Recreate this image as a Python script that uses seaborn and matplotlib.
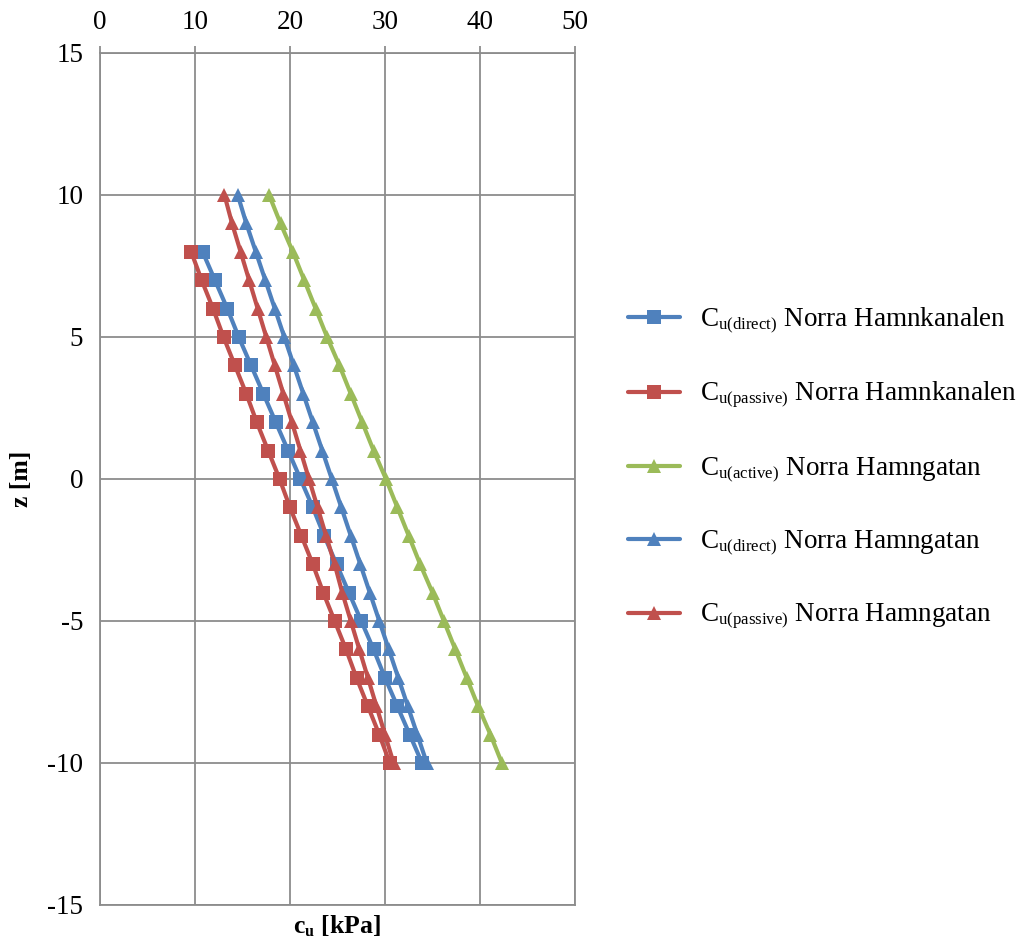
import matplotlib
matplotlib.use("Agg")
import matplotlib.pyplot as plt
import matplotlib._mathtext as _mathtext
import seaborn as sns
import pandas as pd

# Depth levels [m]
z_hamnkanalen = [8, 7, 6, 5, 4, 3, 2, 1, 0, -1, -2, -3, -4, -5, -6, -7, -8, -9, -10]
z_hamngatan = [10, 9, 8, 7, 6, 5, 4, 3, 2, 1, 0, -1, -2, -3, -4, -5, -6, -7, -8, -9, -10]

# Undrained shear strength cu [kPa]
cu_direct_hamnkanalen = [10.8, 12.1, 13.4, 14.6, 15.9, 17.2, 18.5, 19.8, 21.1, 22.4,
                         23.6, 24.9, 26.2, 27.5, 28.8, 30.0, 31.3, 32.6, 33.9]
cu_passive_hamnkanalen = [9.6, 10.7, 11.9, 13.0, 14.2, 15.4, 16.5, 17.7, 18.9, 20.0,
                          21.2, 22.4, 23.5, 24.7, 25.9, 27.0, 28.2, 29.4, 30.5]
cu_active_hamngatan = [17.8, 19.0, 20.3, 21.5, 22.7, 23.9, 25.2, 26.4, 27.6, 28.8, 30.1,
                       31.3, 32.5, 33.7, 35.0, 36.2, 37.4, 38.6, 39.8, 41.1, 42.3]
cu_direct_hamngatan = [14.5, 15.4, 16.4, 17.4, 18.4, 19.4, 20.4, 21.4, 22.4, 23.4, 24.4,
                       25.4, 26.4, 27.4, 28.4, 29.4, 30.4, 31.4, 32.4, 33.4, 34.4]
cu_passive_hamngatan = [13.1, 13.9, 14.8, 15.7, 16.6, 17.5, 18.4, 19.3, 20.2, 21.1, 22.0,
                        22.9, 23.8, 24.7, 25.5, 26.4, 27.3, 28.2, 29.1, 30.0, 30.9]

labels = [
    r"C$_{\mathregular{u(direct)}}$ Norra Hamnkanalen",
    r"C$_{\mathregular{u(passive)}}$ Norra Hamnkanalen",
    r"C$_{\mathregular{u(active)}}$ Norra Hamngatan",
    r"C$_{\mathregular{u(direct)}}$ Norra Hamngatan",
    r"C$_{\mathregular{u(passive)}}$ Norra Hamngatan",
]

BLUE, RED, GREEN = "#4F81BD", "#C0504D", "#9BBB59"

series = [
    (labels[0], z_hamnkanalen, cu_direct_hamnkanalen, BLUE, "s"),
    (labels[1], z_hamnkanalen, cu_passive_hamnkanalen, RED, "s"),
    (labels[2], z_hamngatan, cu_active_hamngatan, GREEN, "^"),
    (labels[3], z_hamngatan, cu_direct_hamngatan, BLUE, "^"),
    (labels[4], z_hamngatan, cu_passive_hamngatan, RED, "^"),
]

# slightly smaller subscripts than the mathtext default
_mathtext.SHRINK_FACTOR = 0.62

sns.set_style("white")
plt.rcParams["font.family"] = ["Liberation Serif", "DejaVu Serif"]
plt.rcParams["mathtext.fontset"] = "custom"
plt.rcParams["mathtext.rm"] = "Liberation Serif"
plt.rcParams["mathtext.it"] = "Liberation Serif:italic"
plt.rcParams["mathtext.bf"] = "Liberation Serif:bold"
plt.rcParams["axes.unicode_minus"] = False
for key in ("text.color", "axes.labelcolor", "xtick.labelcolor", "ytick.labelcolor"):
    plt.rcParams[key] = "black"

fig = plt.figure(figsize=(10.17, 9.40), dpi=100)
ax = fig.add_axes([100 / 1017, 1 - 905 / 940, 475 / 1017, 852 / 940])

for label, z, cu, color, marker in series:
    df = pd.DataFrame({"cu": cu, "z": z})
    sns.lineplot(data=df, x="cu", y="z", sort=False, estimator=None, ax=ax,
                 color=color, marker=marker, markersize=10.5, markeredgewidth=0,
                 linewidth=3.0, label=label)

ax.set_xlim(0, 50)
ax.set_ylim(-15, 15)
ax.set_xticks(range(0, 51, 10))
ax.set_yticks(range(-15, 16, 5))
ax.xaxis.tick_top()
ax.grid(True, color="#8C8C8C", linewidth=1.3)
ax.set_axisbelow(True)
for sp in ax.spines.values():
    sp.set_color("#8C8C8C")
    sp.set_linewidth(1.3)
ax.tick_params(axis="both", labelsize=19.5, length=5, color="#8C8C8C", width=1.3)
ax.tick_params(axis="x", pad=8)
ax.tick_params(axis="y", pad=7)

ax.set_xlabel("")
ax.set_ylabel("z [m]", fontsize=18.5, fontweight="bold", labelpad=10)
fig.text(337 / 1017, 1 - 926 / 940, r"c$_{\mathbf{u}}$ [kPa]", fontsize=18.5,
         fontweight="bold", ha="center", va="center")

leg = ax.legend(loc="center left", bbox_to_anchor=(604 / 1017, 1 - 469 / 940),
                bbox_transform=fig.transFigure, frameon=False, fontsize=19.5,
                labelspacing=1.62, handlelength=1.9, handletextpad=0.75)

fig.savefig("out.png", dpi=100)
